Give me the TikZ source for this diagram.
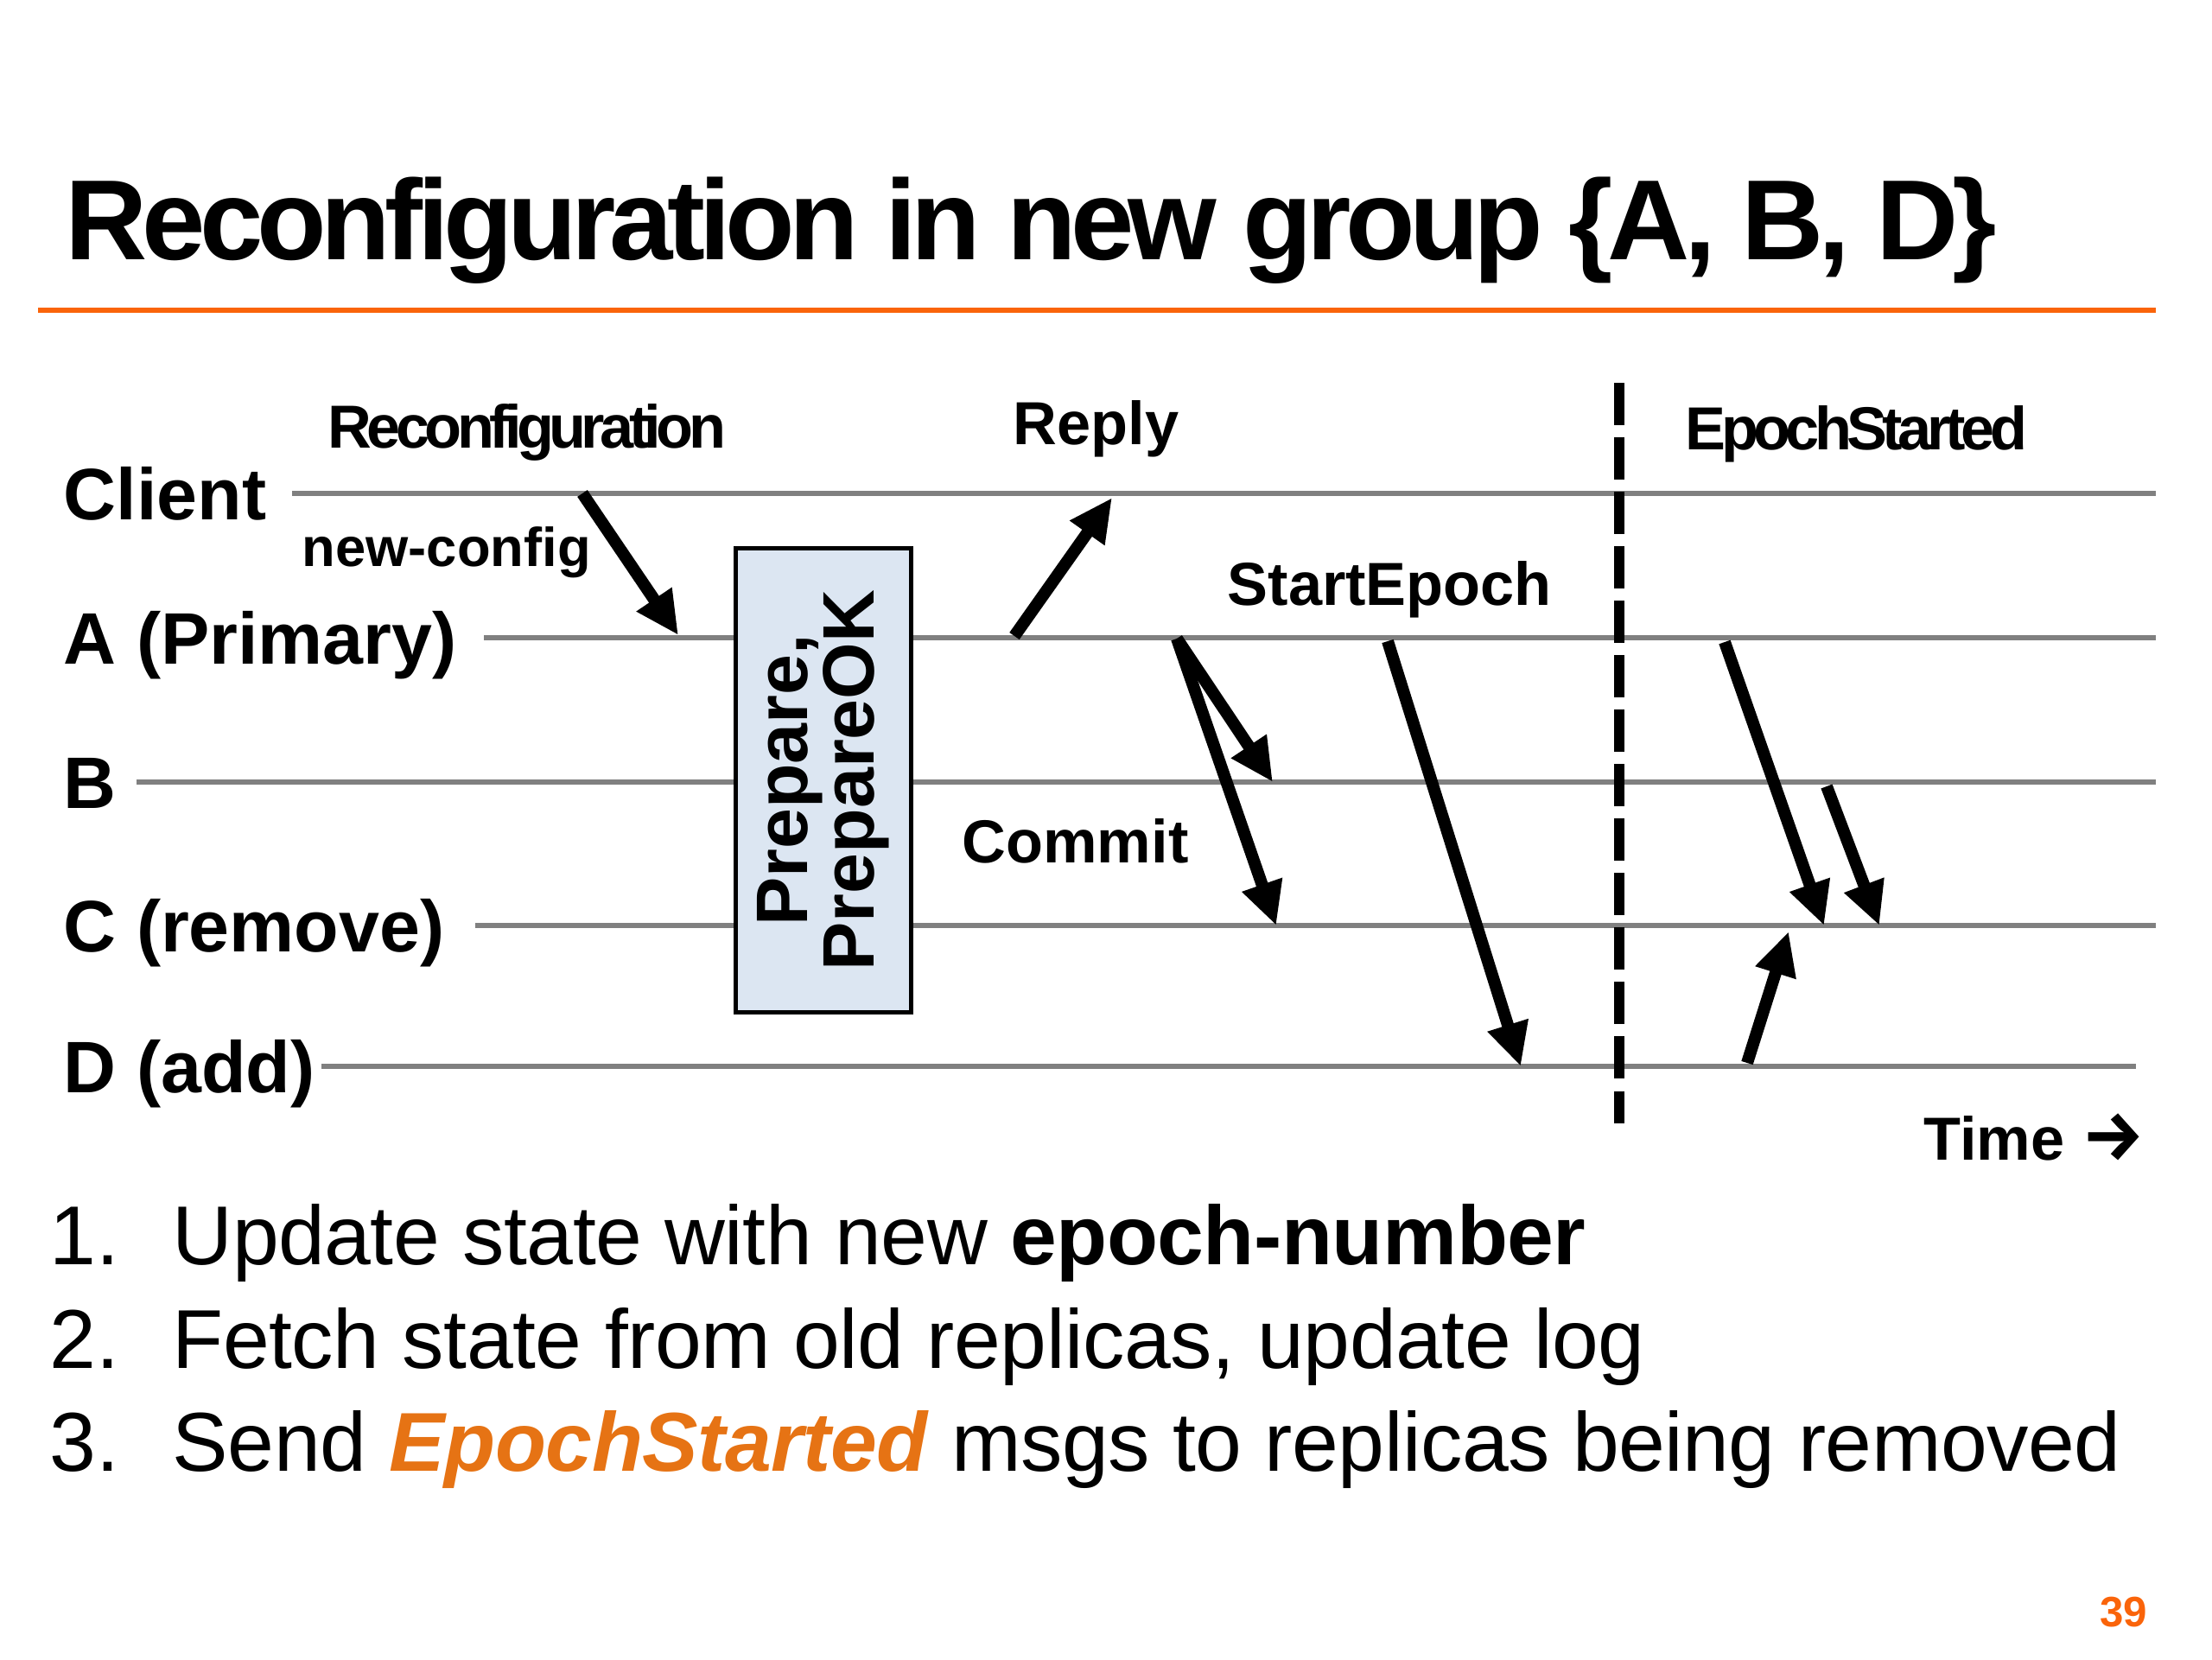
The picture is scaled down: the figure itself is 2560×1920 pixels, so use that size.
\documentclass[tikz,border=0pt]{standalone}
\usepackage{fontspec}
\setmainfont{Liberation Sans}
\newfontfamily\titlesans[LetterSpace=-5]{Liberation Sans}
\newfontfamily\tightsans[LetterSpace=-8]{Liberation Sans}
\newfontfamily\listsans[LetterSpace=-0.5]{Liberation Sans}
\newfontfamily\arrowsans{Fira Sans}
\usetikzlibrary{arrows.meta}
\definecolor{rulecol}{RGB}{250,100,10}
\definecolor{epochcol}{RGB}{230,115,20}
\definecolor{linegray}{RGB}{128,128,128}
\definecolor{boxfill}{RGB}{220,230,242}
\begin{document}
\begin{tikzpicture}[x=0.01cm,y=-0.01cm,
    life/.style={draw=linegray,line width=0.065cm},
    msg/.style={line width=0.14cm,-{Triangle[length=0.5cm,width=0.46cm]}},
    rowlbl/.style={anchor=base west,inner sep=0pt,font=\fontsize{24}{28}\selectfont\bfseries},
    msglbl/.style={anchor=base west,inner sep=0pt,font=\fontsize{20}{24}\selectfont\bfseries},
    listlbl/.style={anchor=base west,inner sep=0pt,font=\fontsize{27.5}{32}\selectfont\listsans}]
  \useasboundingbox (0,0) rectangle (2560,1920);
  % title and rule
  \node[anchor=base west,inner sep=0pt,font=\fontsize{37.5}{42}\selectfont\titlesans\bfseries]
    (title) at (75,300) {Reconfiguration in new group \{A, B, D\}};
  \coordinate (rl) at (44,359);
  \coordinate (rr) at (2495,359);
  \draw[rulecol,line width=0.06cm] (rl) -- (rr);
  % process labels
  \node[rowlbl] (client) at (73,601) {Client};
  \node[rowlbl] (pa) at (73,768) {A (Primary)};
  \node[rowlbl] (pb) at (73,935) {B};
  \node[rowlbl] (pc) at (73,1101) {C (remove)};
  \node[rowlbl] (pd) at (73,1264) {D (add)};
  % time lines
  \coordinate (cl) at (338,571);  \coordinate (cr) at (2495,571);
  \coordinate (al) at (560,738);  \coordinate (ar) at (2495,738);
  \coordinate (bl) at (158,905);  \coordinate (br) at (2495,905);
  \coordinate (ccl) at (550,1071); \coordinate (ccr) at (2495,1071);
  \coordinate (dl) at (372,1234); \coordinate (dr) at (2472,1234);
  \draw[life] (cl) -- (cr);
  \draw[life] (al) -- (ar);
  \draw[life] (bl) -- (br);
  \draw[life] (ccl) -- (ccr);
  \draw[life] (dl) -- (dr);
  % prepare box
  \node[draw,fill=boxfill,line width=0.05cm,rotate=90,minimum width=5.36cm,minimum height=2.03cm,
    align=center,inner sep=0pt,font=\fontsize{24}{22}\selectfont\bfseries]
    (prep) at (953,903) {Prepare,\\PrepareOK};
  % message labels
  \node[msglbl,font=\fontsize{20}{24}\selectfont\tightsans\bfseries] (reconf) at (379,518) {Reconfiguration};
  \node[msglbl,font=\fontsize{18}{22}\selectfont\bfseries] (newcfg) at (349,655) {new-config};
  \node[msglbl] (reply) at (1172,514) {Reply};
  \node[msglbl] (start) at (1420,700) {StartEpoch};
  \node[msglbl] (commit) at (1113,998) {Commit};
  \node[msglbl,font=\fontsize{20}{24}\selectfont\tightsans\bfseries] (started) at (1950,520) {EpochStarted};
  \node[msglbl] (time) at (2226,1342) {Time {\arrowsans\bfseries\fontsize{23}{24}\selectfont →}};
  % messages
  \coordinate (m1a) at (674,571);   \coordinate (m1b) at (785,735);
  \coordinate (m2a) at (1174,736);  \coordinate (m2b) at (1287,576);
  \coordinate (m3a) at (1362,739);  \coordinate (m3b) at (1473,905);
  \coordinate (m4b) at (1477,1071);
  \coordinate (m5a) at (1606,742);  \coordinate (m5b) at (1760,1234);
  \coordinate (m6a) at (1996,743);  \coordinate (m6b) at (2111,1071);
  \coordinate (m7a) at (2114,910);  \coordinate (m7b) at (2175,1071);
  \coordinate (m8a) at (2022,1230); \coordinate (m8b) at (2070,1078);
  \draw[msg] (m1a) -- (m1b);
  \draw[msg] (m2a) -- (m2b);
  \draw[msg] (m3a) -- (m3b);
  \draw[msg] (m3a) -- (m4b);
  \draw[msg] (m5a) -- (m5b);
  \draw[msg] (m6a) -- (m6b);
  \draw[msg] (m7a) -- (m7b);
  \draw[msg] (m8a) -- (m8b);
  % epoch boundary
  \coordinate (ept) at (1874,443);
  \coordinate (epb) at (1874,1300);
  \draw[line width=0.12cm,dash pattern=on 0.49cm off 0.14cm] (ept) -- (epb);
  % steps
  \node[listlbl] (n1) at (57,1463) {1.};
  \node[listlbl] (t1) at (199,1463) {Update state with new \textbf{epoch-number}};
  \node[listlbl] (n2) at (57,1583) {2.};
  \node[listlbl] (t2) at (199,1583) {Fetch state from old replicas, update log};
  \node[listlbl] (n3) at (57,1702) {3.};
  \node[listlbl] (t3) at (199,1702) {Send \textcolor{epochcol}{\textbf{\textit{EpochStarted}}} msgs to replicas being removed};
  % page number
  \node[anchor=base east,inner sep=0pt,text=rulecol,font=\fontsize{14}{16}\selectfont\bfseries]
    (page) at (2486,1882) {39};
\end{tikzpicture}
\end{document}
